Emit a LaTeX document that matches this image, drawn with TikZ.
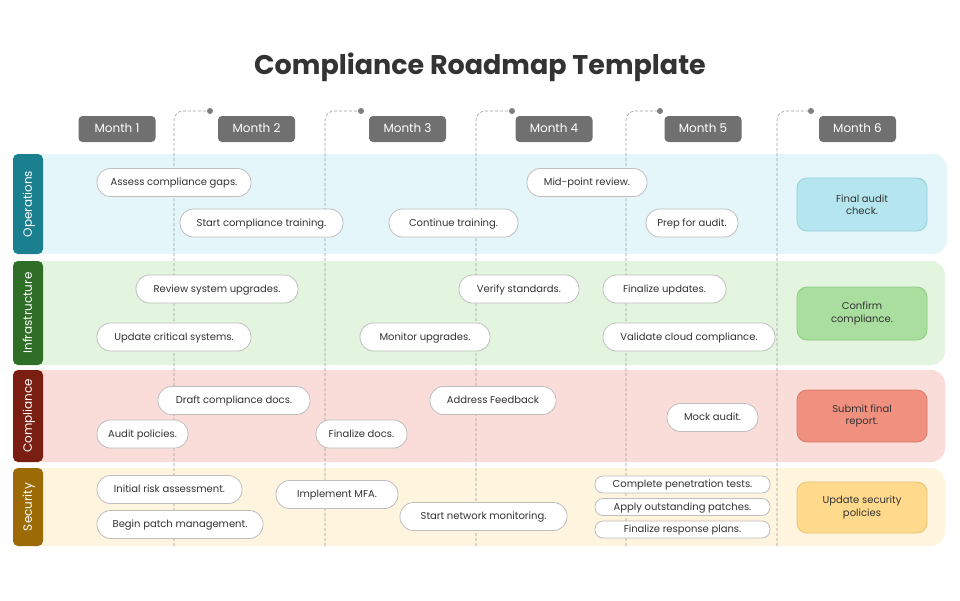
\documentclass[tikz,border=0pt]{standalone}
\usepackage{fontspec}
\setmainfont{Poppins}
\definecolor{txt}{HTML}{333333}
\definecolor{pillb}{HTML}{BDBDBD}
\definecolor{monthg}{HTML}{707070}
\definecolor{guidec}{HTML}{9E9E9E}
\definecolor{opsL}{HTML}{1A7F8E}\definecolor{opsBg}{HTML}{E4F6FA}\definecolor{opsF}{HTML}{B5E6EF}\definecolor{opsB}{HTML}{93CFDB}
\definecolor{infL}{HTML}{2F6E27}\definecolor{infBg}{HTML}{E4F5DF}\definecolor{infF}{HTML}{A9DE9F}\definecolor{infB}{HTML}{8CC983}
\definecolor{comL}{HTML}{7B1E12}\definecolor{comBg}{HTML}{FADCD8}\definecolor{comF}{HTML}{F0907F}\definecolor{comB}{HTML}{D97A6A}
\definecolor{secL}{HTML}{9C6B06}\definecolor{secBg}{HTML}{FFF4DE}\definecolor{secF}{HTML}{FFD98C}\definecolor{secB}{HTML}{E8C373}
\begin{document}
\begin{tikzpicture}[x=1pt,y=-1pt,
  pill/.style={draw=pillb, fill=white, line width=0.8pt, rounded corners=13.5pt, inner sep=0pt,
    text=txt, font=\fontsize{10}{12}\selectfont, minimum height=28pt, text height=7pt, text depth=1pt},
  minipill/.style={pill, rounded corners=8pt, minimum height=17pt, minimum width=175pt},
  monthbox/.style={fill=monthg, rounded corners=4pt, text=white, inner sep=0pt,
    font=\fontsize{12}{14}\selectfont, minimum width=77pt, minimum height=26pt, text height=8.5pt, text depth=1pt},
  lanelabel/.style={rounded corners=5pt, text=white, inner sep=0pt, rotate=90,
    font=\fontsize{12}{14}\selectfont, minimum height=30pt, text height=8.5pt, text depth=1pt},
  finalbox/.style={rounded corners=10pt, line width=0.8pt, inner sep=0pt, text=txt, align=center,
    font=\fontsize{10}{12.5}\selectfont, minimum width=130pt},
  guide/.style={draw=guidec, line width=0.6pt, dash pattern=on 3pt off 2pt, rounded corners=9pt},
  gdot/.style={circle, fill=guidec!80!black, inner sep=0pt, minimum size=6pt}
]
\useasboundingbox (0,0) rectangle (960,600);
\fill[white] (0,0) rectangle (960,600);

% title
\node[font=\fontsize{27}{31}\selectfont\bfseries, text=txt] (title) at (480,67) {Compliance Roadmap Template};

% lane backgrounds
\fill[opsBg, rounded corners=14pt] (30,154) rectangle (947,254);
\fill[infBg, rounded corners=14pt] (30,261) rectangle (945,365);
\fill[comBg, rounded corners=14pt] (30,370) rectangle (945,462);
\fill[secBg, rounded corners=14pt] (30,468) rectangle (945,546);

% month headers
\node[monthbox] (m1) at (117,129) {Month 1};
\node[monthbox] (m2) at (256.5,129) {Month 2};
\node[monthbox] (m3) at (407.5,129) {Month 3};
\node[monthbox] (m4) at (554,129) {Month 4};
\node[monthbox] (m5) at (703,129) {Month 5};
\node[monthbox] (m6) at (857.5,129) {Month 6};

% guide lines
\foreach \i/\x/\d in {1/174/210, 2/325/361, 3/476/512, 4/626/660, 5/777/811}{
  \coordinate (gb\i) at (\x,546);
  \node[gdot] (gd\i) at (\d,111) {};
  \draw[guide] (gb\i) |- (gd\i.west);
}

% lane labels
\node[lanelabel, fill=opsL, minimum width=100pt] (lops) at (28,204) {Operations};
\node[lanelabel, fill=infL, minimum width=104pt] (linf) at (28,313) {Infrastructure};
\node[lanelabel, fill=comL, minimum width=92pt] (lcom) at (28,416) {Compliance};
\node[lanelabel, fill=secL, minimum width=78pt] (lsec) at (28,507) {Security};

% operations
\node[pill, minimum width=154pt] (o1) at (174,182.5) {Assess compliance gaps.};
\node[pill, minimum width=163pt] (o2) at (261.5,223) {Start compliance training.};
\node[pill, minimum width=129pt] (o3) at (453.5,223) {Continue training.};
\node[pill, minimum width=120pt] (o4) at (587,182.5) {Mid-point review.};
\node[pill, minimum width=92pt] (o5) at (692,223) {Prep for audit.};

% infrastructure
\node[pill, minimum width=162pt] (i1) at (217,289) {Review system upgrades.};
\node[pill, minimum width=154pt] (i2) at (174,337) {Update critical systems.};
\node[pill, minimum width=130pt] (i3) at (425,337) {Monitor upgrades.};
\node[pill, minimum width=120pt] (i4) at (519,289) {Verify standards.};
\node[pill, minimum width=123pt] (i5) at (664.5,289) {Finalize updates.};
\node[pill, minimum width=172pt] (i6) at (689,337) {Validate cloud compliance.};

% compliance
\node[pill, minimum width=152pt] (c1) at (234,400.5) {Draft compliance docs.};
\node[pill, minimum width=91pt] (c2) at (142.5,434) {Audit policies.};
\node[pill, minimum width=91pt] (c3) at (361.5,434) {Finalize docs.};
\node[pill, minimum width=126pt] (c4) at (493,400.5) {Address Feedback};
\node[pill, minimum width=91pt] (c5) at (712.5,417.5) {Mock audit.};

% security
\node[pill, minimum width=145pt] (s1) at (169.5,489.5) {Initial risk assessment.};
\node[pill, minimum width=166pt] (s2) at (180,524.5) {Begin patch management.};
\node[pill, minimum width=122pt] (s3) at (337,494.5) {Implement MFA.};
\node[pill, minimum width=167pt] (s4) at (483.5,516.5) {Start network monitoring.};
\node[minipill] (s5) at (682.5,484.5) {Complete penetration tests.};
\node[minipill] (s6) at (682.5,507) {Apply outstanding patches.};
\node[minipill] (s7) at (682.5,529.5) {Finalize response plans.};

% final column
\node[finalbox, fill=opsF, draw=opsB, minimum height=53pt] (f1) at (862,204.5) {Final audit\\check.};
\node[finalbox, fill=infF, draw=infB, minimum height=53pt] (f2) at (862,313.5) {Confirm\\compliance.};
\node[finalbox, fill=comF, draw=comB, minimum height=52pt] (f3) at (862,416) {Submit final\\report.};
\node[finalbox, fill=secF, draw=secB, minimum height=51pt] (f4) at (862,507.5) {Update security\\policies};
\end{tikzpicture}
\end{document}
